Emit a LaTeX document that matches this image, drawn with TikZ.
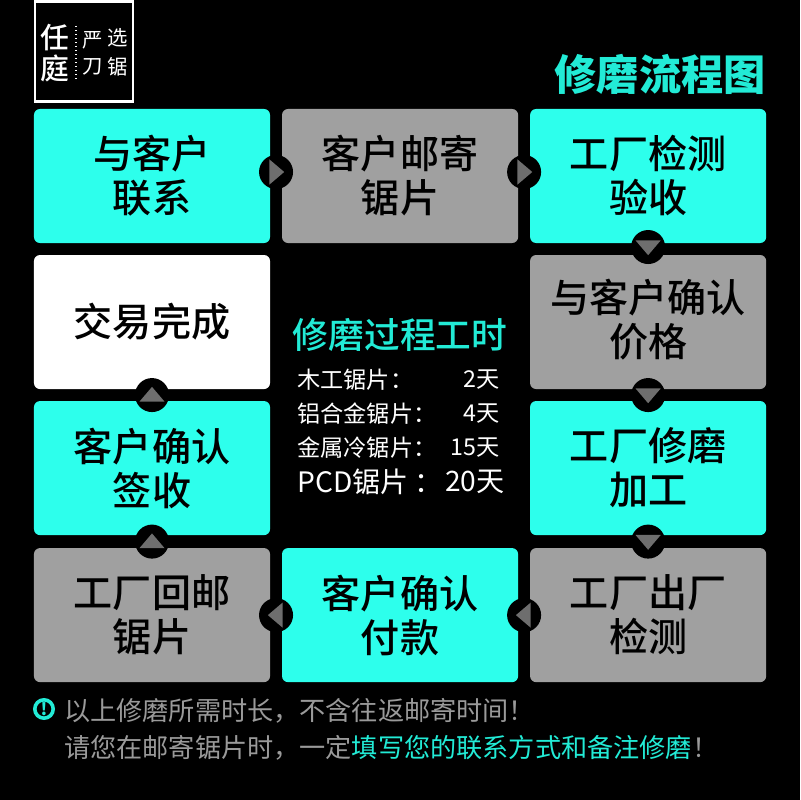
\documentclass[tikz,border=0pt]{standalone}
\usepackage{xcolor}
\usepackage{fontspec}
\setmainfont{Noto Sans CJK SC}
\newfontfamily\heavyfont{Noto Sans CJK SC Medium}
\usepackage{tikz}
\usetikzlibrary{shapes.geometric, positioning}

\definecolor{aqua}{HTML}{2DFFEC}
\definecolor{aquatext}{HTML}{22EBD6}
\definecolor{boxgray}{HTML}{A0A0A0}
\definecolor{tipgray}{HTML}{6E6E6E}
\definecolor{notegray}{HTML}{9A9A9A}

\begin{document}
\begin{tikzpicture}[
    x=0.025cm, y=-0.025cm,
    node distance=0.3cm,
    boxtext/.style={align=center, text=black, font=\heavyfont\fontsize{27.8}{31.3}\selectfont, inner sep=0pt, outer sep=0pt},
    box/.style={boxtext, rectangle, rounded corners=0.15cm, minimum width=5.9cm, minimum height=3.35cm},
    aquabox/.style={box, fill=aqua},
    graybox/.style={box, fill=boxgray},
    whitebox/.style={box, fill=white},
    dot/.style={circle, fill=black, minimum size=0.85cm, inner sep=0pt},
    tip/.style={isosceles triangle, isosceles triangle stretches, fill=tipgray, minimum height=0.37cm, minimum width=0.63cm, inner sep=0pt, outer sep=0pt, shape border rotate=#1},
    logobig/.style={text=white, font=\heavyfont\fontsize{20.5}{20.5}\selectfont, inner sep=0pt},
    logosmall/.style={text=white, font=\fontsize{14.5}{14.5}\selectfont, inner sep=0pt},
    rowname/.style={anchor=west, text=white, inner sep=0pt, font=\fontsize{16.5}{18}\selectfont},
    rowtime/.style={anchor=east, text=white, inner sep=0pt, font=\fontsize{16.5}{18}\selectfont},
    noteline/.style={anchor=west, text=notegray, inner sep=0pt, font=\fontsize{18.6}{20}\selectfont}
]
    \fill[black] (0,0) rectangle (800,800);
    \useasboundingbox (0,0) rectangle (800,800);

    % Logo
    \node[draw=white, line width=0.07cm, minimum width=2.45cm, minimum height=2.48cm, inner sep=0pt] (logo) at (84,51.5) {};
    \node[logobig] (ren) at (55,38) {任};
    \node[logobig] (ting) at (55,68) {庭};
    \node[logosmall] (yan) at (93,40) {严};
    \node[logosmall] (xuan) at (118,38) {选};
    \node[logosmall] (dao) at (93,67) {刀};
    \node[logosmall] (ju) at (118,67) {锯};
    \coordinate (dottop) at (76,26);
    \coordinate (dotend) at (76,81);
    \draw[white, line width=0.03cm, dotted] (dottop) -- (dotend);

    % Title
    \node[text=aquatext, font=\fontsize{30}{32}\selectfont\bfseries, inner sep=0pt, anchor=east] (title) at (766,74) {修磨流程图};

    % Top row
    \node[aquabox] (lianxi) at (152,176) {与客户\\联系};
    \node[graybox, right=of lianxi] (youji) {客户邮寄\\锯片};
    \node[aquabox, right=of youji] (jiance) {工厂检测\\验收};

    % Second row
    \node[whitebox, below=of lianxi] (wancheng) {\raisebox{0.05cm}{交易完成}};
    \node[graybox, below=of jiance, label={[boxtext, yshift=0.05cm]center:与客户确认\\价格}] (jiage) {};

    % Third row
    \node[aquabox, below=of wancheng] (qianshou) {客户确认\\签收};
    \node[aquabox, below=of jiage] (jiagong) {工厂修磨\\加工};

    % Bottom row
    \node[graybox, below=0.325cm of qianshou] (huiyou) {工厂回邮\\锯片};
    \node[aquabox, right=of huiyou] (fukuan) {客户确认\\付款};
    \node[graybox, right=of fukuan] (chuchang) {工厂出厂\\检测};

    % Turn marks between boxes
    \path (lianxi) -- node[dot, yshift=0.1cm] {} node[tip=0, yshift=0.1cm, xshift=-0.02cm] {} (youji);
    \path (youji) -- node[dot, yshift=0.1cm] {} node[tip=0, yshift=0.1cm, xshift=-0.02cm] {} (jiance);
    \path (jiance) -- node[dot, yshift=0.05cm] {} node[tip=270, yshift=0.07cm] {} (jiage);
    \path (jiage) -- node[dot] {} node[tip=270, yshift=0.02cm] {} (jiagong);
    \path (jiagong) -- node[dot] {} node[tip=270, yshift=0.02cm] {} (chuchang);
    \path (chuchang) -- node[dot] {} node[tip=180, xshift=0.02cm] {} (fukuan);
    \path (fukuan) -- node[dot] {} node[tip=180, xshift=0.02cm] {} (huiyou);
    \path (huiyou) -- node[dot] {} node[tip=90, yshift=-0.02cm] {} (qianshou);
    \path (qianshou) -- node[dot] {} node[tip=90, yshift=-0.02cm] {} (wancheng);

    % Working hours
    \node[text=aquatext, font=\heavyfont\fontsize{25.4}{28}\selectfont, inner sep=0pt] (gongshi) at (400,335) {修磨过程工时};
    \node[rowname] (mugong) at (297,380) {木工锯片：};
    \node[rowtime] (mugongt) at (500,380) {2天};
    \node[rowname] (lvhe) at (297,414) {铝合金锯片：};
    \node[rowtime] (lvhet) at (500,414) {4天};
    \node[rowname] (jinshu) at (297,448) {金属冷锯片：};
    \node[rowtime] (jinshut) at (500,448) {15天};
    \node[rowname, font=\fontsize{20}{21}\selectfont] (pcd) at (297,482) {PCD锯片 ：};
    \node[rowtime, font=\fontsize{20}{21}\selectfont] (pcdt) at (505,482) {20天};

    % Notes
    \node[circle, draw=aquatext, line width=0.09cm, minimum size=0.46cm, inner sep=0pt, text=aquatext, font=\fontsize{12}{12}\selectfont\bfseries] (warn) at (44,709) {!};
    \node[noteline] (note1) at (64,711) {以上修磨所需时长，不含往返邮寄时间！};
    \node[noteline] (note2) at (64,748) {请您在邮寄锯片时，一定\textcolor{aquatext}{填写您的联系方式和备注修磨}！};
\end{tikzpicture}
\end{document}
